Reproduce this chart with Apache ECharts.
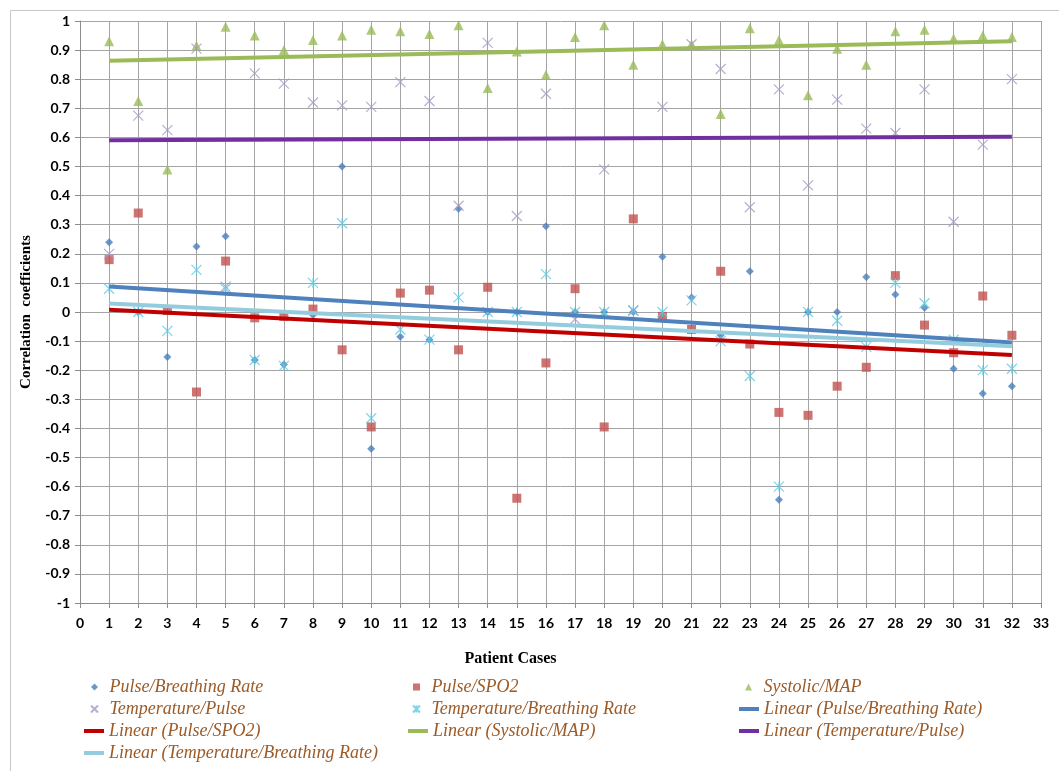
<!DOCTYPE html>
<html>
<head>
<meta charset="utf-8">
<title>Correlation coefficients by patient case</title>
<script src="https://cdn.jsdelivr.net/npm/echarts@6/dist/echarts.min.js"></script>
<style>
  html, body { margin: 0; padding: 0; background: #fff; }
  #chart { width: 1059px; height: 771px; }
</style>
</head>
<body>
<div id="chart"></div>
<script>
// patient case numbers
const cases = [1, 2, 3, 4, 5, 6, 7, 8, 9, 10, 11, 12, 13, 14, 15, 16,
  17, 18, 19, 20, 21, 22, 23, 24, 25, 26, 27, 28, 29, 30, 31, 32]

// correlation coefficients
const pulseBreathing = [0.24, 0, -0.155, 0.225, 0.26, -0.165, -0.18, -0.01, 0.50, -0.47, -0.085, -0.095, 0.355, 0, 0, 0.295,
  0, 0, 0, 0.19, 0.05, -0.08, 0.14, -0.645, 0, 0, 0.12, 0.06, 0.015, -0.195, -0.28, -0.255]
const pulseSpo2 = [0.18, 0.34, 0.005, -0.275, 0.175, -0.02, -0.015, 0.01, -0.13, -0.395, 0.065, 0.075, -0.13, 0.085, -0.64, -0.175,
  0.08, -0.395, 0.32, -0.015, -0.06, 0.14, -0.11, -0.345, -0.355, -0.255, -0.19, 0.125, -0.045, -0.14, 0.055, -0.08]
const systolicMap = [0.93, 0.725, 0.49, 0.915, 0.98, 0.95, 0.90, 0.935, 0.95, 0.97, 0.965, 0.955, 0.985, 0.77, 0.895, 0.815,
  0.945, 0.985, 0.85, 0.92, 0.92, 0.68, 0.975, 0.935, 0.745, 0.905, 0.85, 0.965, 0.97, 0.94, 0.95, 0.945]
const tempPulse = [0.2, 0.675, 0.625, 0.905, 0.087, 0.82, 0.785, 0.72, 0.71, 0.705, 0.79, 0.725, 0.365, 0.925, 0.33, 0.75,
  -0.025, 0.49, 0.005, 0.705, 0.92, 0.835, 0.36, 0.765, 0.435, 0.73, 0.63, 0.615, 0.765, 0.31, 0.575, 0.8]
const tempBreathing = [0.08, 0, -0.065, 0.145, 0.08, -0.165, -0.185, 0.1, 0.305, -0.365, -0.06, -0.095, 0.05, 0, 0, 0.13,
  0, 0, 0.005, 0, 0.04, -0.1, -0.22, -0.6, 0, -0.03, -0.12, 0.1, 0.03, -0.095, -0.2, -0.195]

// trend line end points (first and last case), as drawn
const trendCases = [1, 32]
const trendPulseBreathing = [0.088, -0.105]
const trendPulseSpo2 = [0.008, -0.148]
const trendSystolicMap = [0.863, 0.93]
const trendTempPulse = [0.59, 0.602]
const trendTempBreathing = [0.029, -0.118]

const diamondPath = 'path://M5,0L10,5L5,10L0,5Z'
const squarePath = 'path://M0,0L10,0L10,10L0,10Z'
const trianglePath = 'path://M5,0L10,10L0,10Z'
const xPath = 'path://M0,0L10,10M10,0L0,10'
const starPath = 'path://M0,0L10,10M10,0L0,10M5,0L5,10'

const pairs = (xs, ys) => xs.map((x, i) => [x, ys[i]])

function scatter(name, values, symbol, size, style) {
  return {
    name: name,
    type: 'scatter',
    data: pairs(cases, values),
    symbol: symbol,
    symbolSize: size,
    itemStyle: style,
    z: 3
  }
}

function trend(name, values, color) {
  return {
    name: name,
    type: 'line',
    data: pairs(trendCases, values),
    symbol: 'none',
    lineStyle: { color: color, width: 4 },
    itemStyle: { color: color },
    z: 4
  }
}

const legendText = {
  fontFamily: 'Liberation Serif',
  fontStyle: 'italic',
  fontSize: 18,
  lineHeight: 18,
  color: '#9c5a26'
}

const rowTop = 678
const rowStep = 22

// one legend block: a few rows of one column, all markers or all lines
function legendBlock(left, row, items, isLine) {
  return {
    orient: 'vertical',
    left: left,
    top: rowTop + row * rowStep,
    itemWidth: 20,
    itemHeight: isLine ? 4 : 7,
    itemGap: rowStep - 18,
    padding: 0,
    symbolKeepAspect: true,
    textStyle: legendText,
    data: items
  }
}

const lineIcon = n => ({ name: n, icon: 'rect' })

const chart = echarts.init(document.getElementById('chart'))

chart.setOption({
  animation: false,
  backgroundColor: '#fff',
  grid: {
    left: 80,
    right: 18,
    top: 21,
    bottom: 168
  },
  graphic: [{
    type: 'rect',
    left: 8,
    top: 8,
    shape: { width: 1100, height: 800 },
    style: { fill: 'none', stroke: '#c8c8c8', lineWidth: 1 },
    silent: true
  }],
  legend: [
    legendBlock(90, 0, [
      { name: 'Pulse/Breathing Rate', icon: diamondPath },
      { name: 'Temperature/Pulse', icon: xPath }
    ], false),
    legendBlock(84, 2, [lineIcon('Linear (Pulse/SPO2)'), lineIcon('Linear (Temperature/Breathing Rate)')], true),
    legendBlock(412, 0, [
      { name: 'Pulse/SPO2', icon: squarePath },
      { name: 'Temperature/Breathing Rate', icon: starPath }
    ], false),
    legendBlock(408, 2, [lineIcon('Linear (Systolic/MAP)')], true),
    legendBlock(745, 0, [{ name: 'Systolic/MAP', icon: trianglePath }], false),
    legendBlock(739, 1, [lineIcon('Linear (Pulse/Breathing Rate)'), lineIcon('Linear (Temperature/Pulse)')], true)
  ],
  xAxis: {
    type: 'value',
    min: 0,
    max: 33,
    interval: 1,
    name: 'Patient Cases',
    nameLocation: 'middle',
    nameGap: 48,
    nameTextStyle: {
      fontFamily: 'Liberation Serif',
      fontWeight: 'bold',
      fontSize: 16,
      color: '#000',
      padding: [0, 100, 0, 0]
    },
    axisLine: { onZero: false, lineStyle: { color: '#8c8c8c' } },
    axisTick: { length: 5, lineStyle: { color: '#8c8c8c' } },
    axisLabel: { margin: 13, fontFamily: 'Lato', fontWeight: 'bold', fontSize: 14, color: '#000' },
    splitLine: { show: true, lineStyle: { color: '#a4a4a4', width: 1 } }
  },
  yAxis: {
    type: 'value',
    min: -1,
    max: 1,
    interval: 0.1,
    name: 'Correlation  coefficients',
    nameLocation: 'middle',
    nameGap: 46,
    nameRotate: 90,
    nameTextStyle: { fontFamily: 'Liberation Serif', fontWeight: 'bold', fontSize: 15, color: '#000' },
    axisLine: { show: true, onZero: false, lineStyle: { color: '#8c8c8c' } },
    axisTick: { show: true, length: 5, lineStyle: { color: '#8c8c8c' } },
    axisLabel: {
      margin: 10,
      fontFamily: 'Lato',
      fontWeight: 'bold',
      fontSize: 14,
      color: '#000',
      formatter: v => String(+v.toFixed(1))
    },
    splitLine: { show: true, lineStyle: { color: '#a4a4a4', width: 1 } }
  },
  series: [
    scatter('Pulse/Breathing Rate', pulseBreathing, 'diamond', 8, { color: '#4a7ebb' }),
    scatter('Pulse/SPO2', pulseSpo2, 'rect', 9, { color: '#c0504d' }),
    scatter('Systolic/MAP', systolicMap, 'triangle', 10, { color: '#9bbb59' }),
    scatter('Temperature/Pulse', tempPulse, xPath, 10, { color: 'rgba(0,0,0,0)', borderColor: '#a899c6', borderWidth: 1.2 }),
    scatter('Temperature/Breathing Rate', tempBreathing, starPath, 10, { color: 'rgba(0,0,0,0)', borderColor: '#5ccbe3', borderWidth: 1.2 }),
    trend('Linear (Pulse/Breathing Rate)', trendPulseBreathing, '#4f81bd'),
    trend('Linear (Pulse/SPO2)', trendPulseSpo2, '#c00000'),
    trend('Linear (Systolic/MAP)', trendSystolicMap, '#9bbb59'),
    trend('Linear (Temperature/Pulse)', trendTempPulse, '#7030a0'),
    trend('Linear (Temperature/Breathing Rate)', trendTempBreathing, '#93cddd')
  ]
})
</script>
</body>
</html>
